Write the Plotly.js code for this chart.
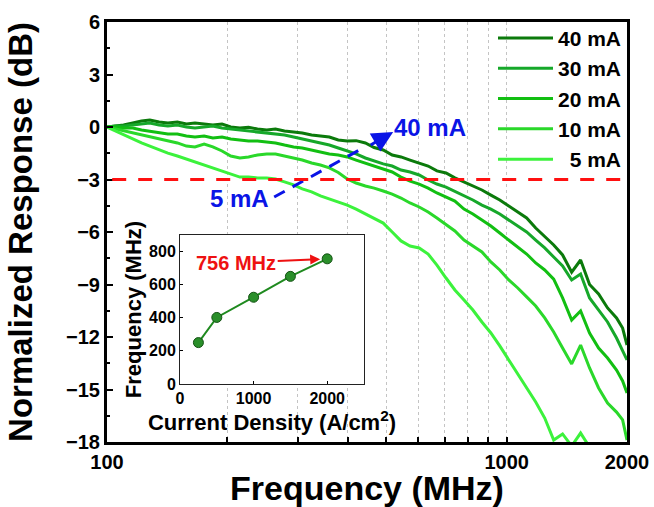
<!DOCTYPE html>
<html>
<head>
<meta charset="utf-8">
<script src="https://cdn.plot.ly/plotly-3.0.1.min.js"></script>
<style>html,body{margin:0;padding:0;background:#fff;}#chart{width:654px;height:507px;}</style>
</head>
<body>
<div id="chart"></div>
<script>
// Frequency axis (MHz)
const freq = [100,105,110,116,122,128,135,142,150,158,166,175,184,194,204,215,226,238,251,264,278,293,308,325,342,360,379,399,420,443,466,491,517,544,573,604,636,669,705,742,782,823,867,913,961,1012,1066,1122,1182,1245,1311,1380,1454,1531,1612,1698,1788,1883,1950,2000];

// Normalized response (dB) per drive current
const resp40 = [0,0.06,0.11,0.23,0.34,0.40,0.29,0.23,0.29,0.17,
  0.23,0.17,0.11,0.17,0,-0.06,-0.02,-0.11,-0.17,-0.11,
  -0.23,-0.29,-0.34,-0.46,-0.51,-0.57,-0.74,-0.80,-0.78,-0.91,
  -1.17,-1.31,-1.60,-1.71,-1.89,-2.06,-2.23,-2.51,-2.63,-2.91,
  -3.14,-3.37,-3.60,-3.89,-4.17,-4.51,-4.86,-5.20,-5.77,-6.23,
  -6.74,-7.31,-8.29,-7.60,-9.00,-9.54,-10.34,-10.91,-11.49,-12.46];
const resp30 = [0,0.06,0.06,0.11,0.17,0.23,0.11,0.06,0.11,0,
  -0.06,-0.01,0.06,-0.06,-0.11,-0.17,-0.23,-0.29,-0.34,-0.40,
  -0.46,-0.57,-0.69,-0.80,-0.91,-1.03,-1.20,-1.37,-1.54,-1.77,
  -1.94,-2.11,-2.23,-2.46,-2.57,-2.74,-3.03,-3.26,-3.43,-3.66,
  -3.94,-4.17,-4.46,-4.69,-4.97,-5.31,-5.66,-6.00,-6.46,-6.91,
  -7.43,-7.94,-8.74,-8.40,-9.77,-10.46,-11.14,-12.06,-12.74,-13.31];
const resp20 = [0,0,-0.06,-0.06,-0.17,-0.23,-0.34,-0.40,-0.40,-0.51,
  -0.57,-0.51,-0.63,-0.57,-0.69,-0.74,-0.80,-0.80,-0.86,-0.91,
  -1.03,-1.14,-1.20,-1.31,-1.43,-1.54,-1.60,-1.71,-1.89,-2.06,
  -2.23,-2.40,-2.57,-2.86,-3.09,-3.26,-3.49,-3.77,-4.00,-4.23,
  -4.69,-4.97,-5.31,-5.66,-6.06,-6.46,-6.86,-7.26,-7.77,-8.17,
  -8.69,-9.77,-11.03,-10.51,-11.77,-12.63,-13.20,-13.89,-14.51,-15.20];
const resp10 = [0,-0.11,-0.23,-0.34,-0.46,-0.57,-0.69,-0.80,-0.91,-1.09,
  -1.14,-0.97,-1.14,-1.37,-1.66,-1.77,-1.71,-1.60,-1.54,-1.54,
  -1.66,-1.77,-1.89,-2.06,-2.17,-2.34,-2.60,-2.97,-3.20,-3.37,
  -3.49,-3.66,-3.83,-4.06,-4.34,-4.57,-4.86,-5.20,-5.60,-5.94,
  -6.46,-6.80,-7.14,-7.71,-8.17,-8.74,-9.20,-9.71,-10.23,-10.91,
  -11.71,-12.63,-13.54,-12.46,-13.77,-14.91,-15.77,-16.29,-16.74,-17.89];
const resp5 = [0,-0.23,-0.46,-0.69,-0.91,-1.09,-1.31,-1.49,-1.66,-1.83,
  -2.00,-2.17,-2.34,-2.51,-2.69,-2.86,-2.86,-2.91,-2.91,-2.97,
  -3.14,-3.31,-3.54,-3.71,-3.94,-4.11,-4.29,-4.46,-4.69,-4.97,
  -5.20,-5.49,-6.00,-6.51,-6.80,-6.91,-7.26,-7.89,-8.63,-9.31,
  -9.89,-10.46,-11.14,-11.77,-12.51,-13.31,-14.06,-14.86,-15.71,-16.63,
  -17.89,-17.54,-18.23,-17.49,-18.29,-19.6,-20.7,-21.3,-21.9,-22.5];

const seriesNames = ['40 mA','30 mA','20 mA','10 mA','\u20075 mA'];
const seriesColors = ['#0b7a0b','#16a82a','#12bf12','#2ad82a','#3cf23c'];
const seriesData = [resp40, resp30, resp20, resp10, resp5];

// Inset: -3 dB bandwidth vs current density
const density = [250, 500, 1000, 1500, 2000];
const bandwidth = [250, 402, 524, 650, 756];

// Tick labels
const xTickVals = [100,200,300,400,500,600,700,800,900,1000,2000];
const xTickText = ['100','','','','','','','','','1000','2000'];
const insetXTicks = [0, 1000, 2000];
const insetYTicks = [0, 200, 400, 600, 800];

// Pointer between the "5 mA" and "40 mA" labels (MHz, dB)
const pointerF = [262, 437];
const pointerDB = [-4.0, -1.2];

const FONT = 'Arial, "Liberation Sans", sans-serif';
function bf(size, color) { return {family: FONT, size: size, weight: 700, color: color || '#000'}; }

const traces = seriesData.map((y, i) => ({
  x: freq, y: y, type: 'scatter', mode: 'lines', name: seriesNames[i],
  line: {color: seriesColors[i], width: 3},
  xaxis: 'x', yaxis: 'y'
}));

traces.push({
  x: pointerF, y: pointerDB, type: 'scatter', mode: 'lines',
  line: {color: '#0a14e6', width: 3, dash: '12px,9px'},
  showlegend: false, hoverinfo: 'skip', xaxis: 'x', yaxis: 'y'
});

traces.push({
  x: density, y: bandwidth, type: 'scatter', mode: 'lines+markers',
  line: {color: '#1f8a1f', width: 2},
  marker: {size: 10, color: '#2a8f2a', line: {color: '#145214', width: 1}},
  showlegend: false, xaxis: 'x2', yaxis: 'y2'
});

const layout = {
  width: 654, height: 507,
  margin: {l: 107, r: 27, t: 22, b: 65},
  paper_bgcolor: '#fff', plot_bgcolor: '#fff',
  font: {family: FONT, color: '#000', weight: 700},
  showlegend: true,
  legend: {
    x: 1.0, xanchor: 'right', y: 1.01, yanchor: 'top',
    bgcolor: 'rgba(0,0,0,0)', borderwidth: 0,
    font: bf(21),
    itemwidth: 55, tracegroupgap: 0
  },
  xaxis: {
    type: 'log', range: [2, Math.log10(2000)],
    tickvals: xTickVals, ticktext: xTickText,
    ticks: 'inside', ticklen: 5, tickwidth: 2, tickcolor: '#000',
    showgrid: true, gridcolor: '#c4c4c4', griddash: 'dot', gridwidth: 1,
    showline: true, linewidth: 3, linecolor: '#000', mirror: true,
    zeroline: false,
    tickfont: bf(20),
    title: {text: '<b>Frequency (MHz)</b>', font: bf(34), standoff: 3}
  },
  yaxis: {
    range: [-18, 6], dtick: 3, tick0: 0,
    ticks: 'inside', ticklen: 6, tickwidth: 2, tickcolor: '#000',
    minor: {dtick: 1.5, tick0: 0, ticks: 'inside', ticklen: 3, tickwidth: 2, tickcolor: '#000'},
    showgrid: false, zeroline: false,
    showline: true, linewidth: 3, linecolor: '#000', mirror: true,
    tickfont: bf(20),
    title: {text: '<b>Normalized Response (dB)</b>', font: bf(33), standoff: 24}
  },
  xaxis2: {
    domain: [0.1404, 0.4942], anchor: 'y2', range: [0, 2500],
    tickvals: insetXTicks, ticktext: insetXTicks.map(v => '<b>' + v + '</b>'),
    ticks: 'inside', ticklen: 3, tickcolor: '#000',
    showgrid: false, zeroline: false,
    showline: true, linewidth: 1, linecolor: '#222', mirror: true,
    tickfont: bf(16),
    title: {text: '<b>Current Density (A/cm<sup>2</sup>)</b>', font: bf(22), standoff: 1}
  },
  yaxis2: {
    domain: [0.1381, 0.4929], anchor: 'x2', range: [0, 900],
    tickvals: insetYTicks, ticktext: insetYTicks.map(v => '<b>' + v + '</b>'),
    ticks: 'inside', ticklen: 3, tickcolor: '#000',
    showgrid: false, zeroline: false,
    showline: true, linewidth: 1, linecolor: '#222', mirror: true,
    tickfont: bf(16),
    title: {text: '<b>Frequency (MHz)</b>', font: bf(22), standoff: 1}
  },
  shapes: [
    {type: 'line', xref: 'paper', yref: 'y', x0: 0.01, x1: 0.99, y0: -3, y1: -3,
     line: {color: '#ff1010', width: 3, dash: '14px,12px'}}
  ],
  annotations: [
    {xref: 'x', yref: 'y', x: Math.log10(642), y: 0, text: '<b>40 mA</b>', showarrow: false,
     font: bf(24, '#0a14e6')},
    {xref: 'x', yref: 'y', x: Math.log10(215), y: -4.11, text: '<b>5 mA</b>', showarrow: false,
     font: bf(24, '#0a14e6')},
    {xref: 'x', yref: 'y', x: Math.log10(520), y: -0.28, text: '', showarrow: true,
     ax: -24, ay: 14, arrowhead: 2, arrowsize: 1.4, arrowwidth: 3, arrowcolor: '#0a14e6'},
    {xref: 'x2', yref: 'y2', x: 2000, y: 756, text: '<b>756 MHz</b>', showarrow: true,
     ax: -91, ay: 4, arrowhead: 2, arrowsize: 1, arrowwidth: 2, arrowcolor: '#ee1111', standoff: 7,
     font: bf(20, '#ee1111')}
  ]
};

Plotly.newPlot('chart', traces, layout, {displayModeBar: false, staticPlot: true});
</script>
</body>
</html>
